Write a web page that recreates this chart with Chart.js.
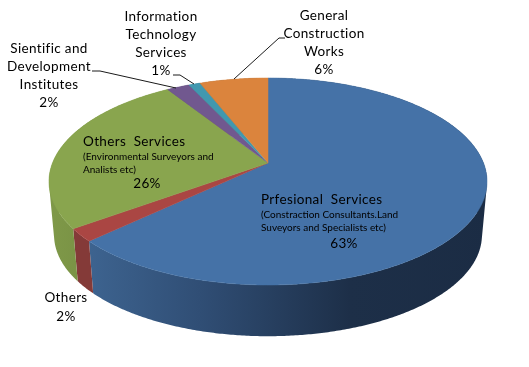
<!DOCTYPE html>
<html><head><meta charset="utf-8">
<style>html,body{margin:0;padding:0;background:#fff}canvas{display:block}</style>
<script src="https://cdn.jsdelivr.net/npm/chart.js@4"></script>
</head><body><canvas id="c" width="529" height="367"></canvas>
<script>
const categories = ["Prfesional Services","Others","Others Services","Sientific and Development Institutes","Information Technology Services","General Construction Works"];
const values = [63,2,26,2,1,6];
const topColors = ["#4572A7","#AA4643","#89A54E","#71588F","#4198AF","#DB843D"];
const wallStops = [
  [[90,"#3d638f"],[200,"#304e75"],[350,"#1d2f48"],[490,"#1b2c44"]],
  [[75,"#843a38"],[100,"#843a38"]],
  [[48,"#7f9949"],[80,"#7a9345"]],
  [[0,"#4b3a60"],[529,"#4b3a60"]],
  [[0,"#2b6575"],[529,"#2b6575"]],
  [[0,"#935829"],[529,"#935829"]]
];
const labels = [
  {lines:["Information","Technology","Services"],x:161,y:17,lh:18,value:4},
  {lines:["Sientific and","Development","Institutes"],x:49,y:49,lh:18,value:3},
  {lines:["General","Construction","Works"],x:324,y:16,lh:18,value:5},
  {lines:["Others"],x:66,y:298,lh:19,value:1}
];
const inner = [
  {title:"Others  Services",small:["(Environmental Surveyors and","Analists etc)"],x:83,y:142,pctX:147,pctY:184,value:2},
  {title:"Prfesional  Services",small:["(Constraction Consultants.Land","Suveyors and Specialists etc)"],x:261,y:200,pctX:344,pctY:244,value:0}
];
const leaders = [
  [[92,71],[100,71],[176,88]],
  [[173,75],[180,75],[194,84]],
  [[285,38],[279,38],[234,79]]
];
const top3d = {cx:268,y0:163,a:215.5,b:100.2,p:0.1787};
const base3d = {cx:268,y0:217,a:210.5,b:97.9,p:0.1787};
function proj(g,t,r){
  const X=Math.cos(t)*r,Y=Math.sin(t)*r,w=1-g.p*Y;
  return [g.cx+g.a*X/w,g.y0+g.b*Y/w];
}
function steps(s,e){return Math.max(2,Math.ceil((e-s)/(Math.PI/360)));}
function area(q){let a=0;q.forEach((p,i)=>{const r=q[(i+1)%q.length];a+=p[0]*r[1]-r[0]*p[1];});return a;}
const pie3d = {
  id:"pie3d",
  beforeDatasetsDraw(chart){
    const ctx=chart.ctx, arcs=chart.getDatasetMeta(0).data;
    ctx.save();
    arcs.forEach((arc,i)=>{
      const s=arc.startAngle,e=arc.endAngle,n=steps(s,e);
      const g=ctx.createLinearGradient(0,0,529,0);
      wallStops[i].forEach(st=>g.addColorStop(st[0]/529,st[1]));
      ctx.fillStyle=g;
      ctx.beginPath();
      for(let k=0;k<n;k++){
        const t1=s+(e-s)*k/n,t2=s+(e-s)*(k+1)/n;
        const q=[proj(top3d,t1,1),proj(top3d,t2,1),proj(base3d,t2,1),proj(base3d,t1,1)];
        if(area(q)<0)q.reverse();
        q.forEach((p,j)=>j?ctx.lineTo(p[0],p[1]):ctx.moveTo(p[0],p[1]));
        ctx.closePath();
      }
      ctx.fill("nonzero");
    });
    arcs.forEach(arc=>{
      const s=arc.startAngle,e=arc.endAngle,n=steps(s,e);
      ctx.fillStyle=arc.options.backgroundColor;ctx.strokeStyle=ctx.fillStyle;ctx.lineWidth=0.5;
      ctx.beginPath();
      const c=proj(top3d,0,0);ctx.moveTo(c[0],c[1]);
      for(let k=0;k<=n;k++){const p=proj(top3d,s+(e-s)*k/n,1);ctx.lineTo(p[0],p[1]);}
      ctx.closePath();ctx.fill();ctx.stroke();
    });
    ctx.restore();
    return false;
  },
  afterDraw(chart){
    const ctx=chart.ctx,total=values.reduce((a,b)=>a+b,0);
    const pct=i=>Math.round(values[i]/total*100)+"%";
    ctx.save();
    ctx.strokeStyle="#1a1a1a";ctx.lineWidth=1;
    leaders.forEach(l=>{ctx.beginPath();l.forEach((p,i)=>i?ctx.lineTo(p[0],p[1]):ctx.moveTo(p[0],p[1]));ctx.stroke();});
    ctx.fillStyle="#000";ctx.textBaseline="middle";
    const big='13.5px Lato',small='10px Lato';
    ctx.letterSpacing="0.35px";
    ctx.textAlign="center";ctx.font=big;
    labels.forEach(l=>{
      l.lines.forEach((t,i)=>ctx.fillText(t,l.x,l.y+i*l.lh));
      ctx.fillText(pct(l.value),l.x,l.y+l.lines.length*l.lh);
    });
    inner.forEach(b=>{
      ctx.textAlign="left";ctx.font=big;ctx.fillText(b.title,b.x,b.y);
      ctx.font=small;ctx.letterSpacing="0px";
      b.small.forEach((t,i)=>ctx.fillText(t,b.x,b.y+15+i*13));
      ctx.letterSpacing="0.35px";
      ctx.textAlign="center";ctx.font=big;ctx.fillText(pct(b.value),b.pctX,b.pctY);
    });
    ctx.restore();
  }
};
new Chart(document.getElementById("c"),{
  type:"pie",
  data:{labels:categories,datasets:[{data:values,backgroundColor:topColors,borderWidth:0}]},
  options:{responsive:false,animation:false,plugins:{legend:{display:false},tooltip:{enabled:false}}},
  plugins:[pie3d]
});
</script></body></html>
